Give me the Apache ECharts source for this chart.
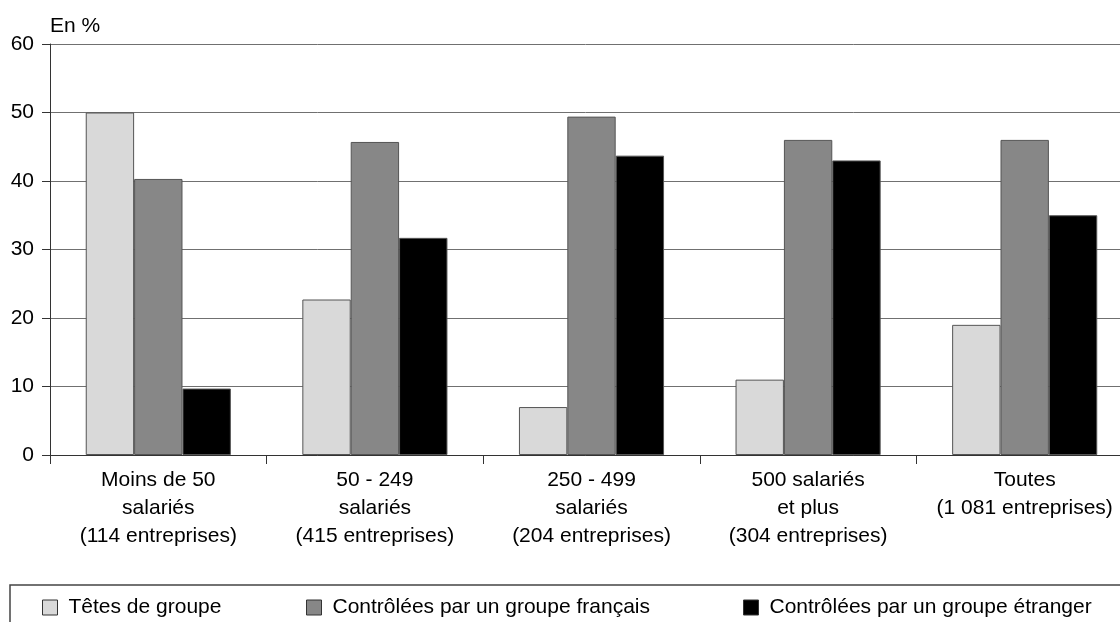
<!DOCTYPE html>
<html lang="fr">
<head>
    <meta charset="UTF-8">
    <title>Répartition par taille</title>
    <script src="https://cdn.jsdelivr.net/npm/echarts@6/dist/echarts.min.js"></script>
    <style>
        html, body { margin: 0; padding: 0; background: #fff; }
        #chart { width: 1120px; height: 622px; }
    </style>
</head>
<body>
<div id="chart"></div>
<script>
    // catégories et séries
    var categories = [
        'Moins de 50\nsalariés\n(114 entreprises)',
        '50 - 249\nsalariés\n(415 entreprises)',
        '250 - 499\nsalariés\n(204 entreprises)',
        '500 salariés\net plus\n(304 entreprises)',
        'Toutes\n(1 081 entreprises)'
    ];
    var seriesNames = ['Têtes de groupe', 'Contrôlées par un groupe français', 'Contrôlées par un groupe étranger'];
    var tetes = [50, 22.7, 7, 11, 19];
    var francais = [40.3, 45.7, 49.4, 46, 46];
    var etranger = [9.7, 31.7, 43.7, 43, 35];
    var yTicks = [0, 10, 20, 30, 40, 50, 60];

    var colors = ['#d9d9d9', '#878787', '#000000'];
    var font = 'Liberation Sans, Arial, sans-serif';

    var chart = echarts.init(document.getElementById('chart'));

    function makeSeries(i, data) {
        return {
            name: seriesNames[i],
            type: 'bar',
            data: data,
            barGap: '0%',
            barCategoryGap: '33%',
            itemStyle: { color: colors[i], borderColor: '#555', borderWidth: 1 },
            emphasis: { disabled: true }
        };
    }

    function makeLegend(i, left) {
        return {
            data: [seriesNames[i]],
            left: left,
            top: 592,
            itemWidth: 15,
            itemHeight: 15,
            itemGap: 0,
            icon: 'rect',
            textStyle: { fontFamily: font, fontSize: 21, color: '#000', padding: [0, 0, 0, 6] },
            itemStyle: { borderColor: '#333', borderWidth: 1 },
            selectedMode: false
        };
    }

    var option = {
        animation: false,
        textStyle: { fontFamily: font },
        // la dernière catégorie déborde un peu à droite, comme sur l'original
        grid: { left: 50, width: 1083, top: 44, bottom: 167, outerBoundsMode: 'none', containLabel: false },
        legend: [makeLegend(0, 37), makeLegend(1, 301), makeLegend(2, 738)],
        graphic: [
            {
                type: 'polyline',
                shape: { points: [[10, 640], [10, 585], [1130, 585]] },
                style: { stroke: '#444', lineWidth: 1.5, fill: null },
                silent: true
            },
            {
                type: 'text',
                left: 50, top: 16,
                style: { text: 'En %', font: '21px ' + font, fill: '#000' }
            }
        ],
        xAxis: {
            type: 'category',
            data: categories,
            axisLine: { lineStyle: { color: '#333', width: 1 } },
            axisTick: { show: true, length: 9, lineStyle: { color: '#333' } },
            axisLabel: {
                interval: 0,
                margin: 11,
                fontSize: 21,
                lineHeight: 28,
                color: '#000',
                fontFamily: font
            }
        },
        yAxis: {
            type: 'value',
            min: yTicks[0],
            max: yTicks[yTicks.length - 1],
            interval: 10,
            axisLine: { show: true, lineStyle: { color: '#333', width: 1 } },
            axisTick: { show: true, length: 8, lineStyle: { color: '#333' } },
            axisLabel: { fontSize: 21, color: '#000', margin: 16, fontFamily: font },
            splitLine: { lineStyle: { color: '#707070', width: 1 } }
        },
        series: [makeSeries(0, tetes), makeSeries(1, francais), makeSeries(2, etranger)]
    };

    chart.setOption(option);
</script>
</body>
</html>
